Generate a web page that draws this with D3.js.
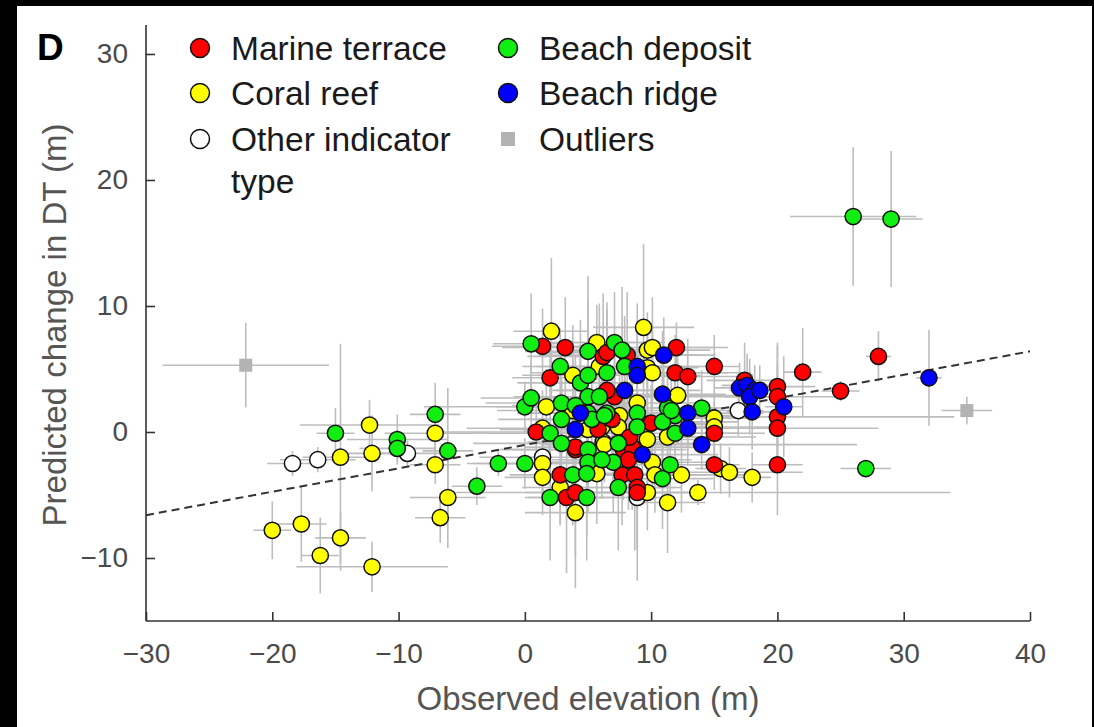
<!DOCTYPE html>
<html>
<head>
<meta charset="utf-8">
<script src="https://cdn.jsdelivr.net/npm/d3@7"></script>
<style>
  html, body { margin: 0; padding: 0; background: #000; }
  svg { display: block; }
  text { font-family: "Liberation Sans", Arial, Helvetica, sans-serif; }
</style>
</head>
<body>
<svg id="chart" width="1094" height="727"></svg>
<script>
// Indicator categories and their marker fills
const categoryNames  = ["Marine terrace", "Coral reef", "Other indicator type", "Beach deposit", "Beach ridge", "Outliers"];
const categoryColors = ["#ff0000", "#ffff00", "#ffffff", "#11ee11", "#0000ff", "#b3b3b3"];

// Each row: [observed elevation, predicted change in DT, x half-error, y half-error]
const marineTerrace = [
  [1.4, 6.8, 4, 3], [3.2, 6.7, 5, 4], [2.0, 4.3, 3, 2.5], [6.2, 6.0, 6, 5], [6.5, 6.3, 5, 4],
  [8.1, 6.1, 7, 5], [12.0, 6.7, 3, 2], [11.9, 4.7, 6, 3], [12.9, 4.4, 4, 3], [15.0, 5.2, 2, 2.5],
  [7.1, 2.8, 8, 4], [6.5, 3.3, 4, 6], [0.9, 0.0, 8, 3], [4.0, -1.4, 6, 4], [4.0, -1.2, 4, 3],
  [7.8, -1.4, 5, 4], [8.5, -1.2, 6, 5], [2.8, -3.4, 4, 4], [3.3, -5.2, 3, 6], [4.0, -4.8, 4, 5],
  [7.7, -3.4, 5, 4], [8.7, -3.4, 4, 6], [8.9, -4.4, 3, 5], [8.9, -4.8, 4, 7], [15.0, -0.1, 4, 2],
  [15.0, -2.6, 2, 2], [17.4, 4.1, 3, 3], [20.0, 3.6, 3, 3.5], [20.0, 2.8, 5, 4], [20.0, 1.2, 14, 4],
  [20.0, 0.3, 8, 3], [20.0, -2.6, 2, 4], [22.0, 4.75, 1.5, 3.5], [25.0, 3.25, 1.5, 0.8], [28.0, 6.0, 1.0, 2.0],
  [6.9, 1.0, 6, 4], [8.3, -0.4, 7, 4], [8.2, -2.2, 5, 4], [5.8, 0.2, 6, 3], [10.0, 0.7, 5, 3]
];
const coralReef = [
  [-20.0, -7.8, 1.5, 2.3], [-17.7, -7.3, 2, 3], [-16.2, -9.8, 1.5, 3], [-14.6, -8.4, 2, 2], [-12.1, -10.7, 6, 2],
  [-14.6, -2.0, 3, 9], [-12.1, -1.7, 2, 3], [-12.3, 0.55, 5.5, 2], [-7.1, -0.1, 4, 2], [-7.1, -2.6, 2, 1.5],
  [-6.1, -5.2, 3, 4], [-6.7, -6.8, 2, 2], [2.1, 8.0, 3, 5.8], [5.7, 7.1, 5, 3], [9.4, 8.3, 4, 6.6],
  [9.7, 6.5, 5, 3], [10.1, 6.7, 6, 4], [3.8, 4.5, 4, 4], [5.9, 5.2, 5, 5], [9.7, 5.1, 4, 3],
  [10.1, 4.7, 6, 4], [1.7, 2.0, 4, 3], [3.8, 1.7, 6, 4], [7.5, 1.3, 5, 4], [5.7, 0.6, 4, 3],
  [9.7, 0.6, 6, 4], [12.1, 2.9, 5, 3], [15.0, 1.1, 3, 2], [15.0, 0.4, 5, 2], [11.3, -0.4, 7, 3],
  [1.4, 0.3, 6, 3], [5.0, 0.2, 5, 4], [6.2, -0.8, 6, 3], [9.7, -0.6, 4, 4], [10.1, -2.4, 5, 3],
  [1.4, -2.5, 6, 3], [1.4, -3.6, 3, 3], [5.7, -3.3, 4, 4], [12.4, -3.4, 5, 3], [9.7, -4.8, 4, 3],
  [11.3, -5.6, 3, 4], [13.7, -4.8, 20, 1], [2.8, -4.4, 3, 3], [4.0, -6.4, 4, 6], [15.5, -2.9, 2, 2],
  [16.2, -3.2, 5.8, 2], [18.0, -3.6, 1.5, 2], [10.3, -3.4, 4, 3], [8.9, 2.3, 5, 3], [6.1, 0.4, 4, 4],
  [7.4, 0.4, 5, 3], [6.3, -1.0, 5, 3]
];
const otherIndicator = [
  [-18.4, -2.5, 2, 1], [-16.4, -2.2, 3, 1], [-9.3, -1.7, 3, 1], [16.9, 1.7, 2, 2], [1.4, -2.0, 5, 3], [8.9, -5.2, 3, 4]
];
const beachDeposit = [
  [-15.0, -0.1, 1.5, 2], [-10.1, -0.6, 4, 2], [-10.1, -1.3, 3, 1], [-7.1, 1.4, 2, 2.5], [-6.1, -1.5, 2, 5],
  [-2.1, -2.5, 2, 1], [-3.8, -4.3, 2, 1.5], [0.5, 7.0, 3, 4], [5.0, 6.4, 5, 6], [7.1, 7.1, 4, 4],
  [7.7, 6.5, 5, 5], [2.8, 5.2, 3, 3], [4.4, 3.9, 5, 5], [5.0, 4.5, 4, 6], [6.5, 4.7, 6, 5],
  [7.9, 5.2, 6, 4], [0.0, 2.0, 8, 2], [0.5, 2.7, 4, 3], [2.9, 2.3, 6, 4], [2.9, 1.0, 5, 3],
  [5.0, 2.8, 5, 5], [5.9, 2.8, 6, 4], [6.5, 1.5, 5, 4], [5.0, 1.5, 5, 4], [8.9, 1.5, 6, 4],
  [8.9, 0.4, 6, 5], [11.3, 1.9, 4, 3], [11.9, 1.3, 5, 3], [14.0, 1.9, 4, 3], [10.9, 0.8, 6, 4],
  [11.9, -0.1, 5, 3], [11.6, 1.7, 4, 3], [2.0, -0.1, 6, 3], [2.9, -0.9, 7, 4], [5.0, -1.4, 6, 4],
  [7.4, -0.9, 7, 4], [5.0, -2.4, 5, 4], [7.0, -2.4, 5, 4], [6.1, -2.2, 4, 3], [0.0, -2.5, 3, 2],
  [3.8, -3.4, 3, 4], [4.9, -3.3, 4, 5], [7.4, -4.4, 5, 5], [10.9, -3.7, 4, 4], [11.5, -2.6, 5, 3],
  [2.0, -5.2, 2, 5], [4.9, -5.2, 3, 5], [4.0, 2.1, 5, 4], [5.3, 1.0, 5, 4], [6.3, 1.3, 4, 4],
  [26.0, 17.1, 5, 5.5], [29.0, 16.9, 2.5, 5.4], [27.0, -2.9, 2, 0.5]
];
const beachRidge = [
  [11.0, 6.1, 3, 3], [8.9, 5.2, 4, 5], [8.9, 4.5, 5, 4], [7.9, 3.3, 6, 4], [4.4, 1.5, 5, 5],
  [10.9, 3.0, 5, 5], [12.9, 1.5, 6, 3], [12.9, 0.3, 4, 3], [14.0, -1.0, 12.3, 2], [4.0, 0.2, 6, 4],
  [9.3, -1.8, 6, 4], [17.0, 3.5, 2, 2], [17.6, 3.7, 2, 2.5], [18.2, 3.3, 2, 2], [17.8, 2.8, 2, 3],
  [18.0, 1.6, 2, 3], [18.6, 3.3, 2, 2], [20.5, 2.0, 1.5, 4], [32.0, 4.3, 1.0, 3.8]
];
const outliers = [
  [-22.1, 5.3, 6.6, 3.35], [35.0, 1.7, 2.0, 1.1]
];

// Fitted trend (end points)
const trendLine = [[-30, -6.6], [40, 6.4]];

// Axis ticks and titles
const xTicks = [-30, -20, -10, 0, 10, 20, 30, 40];
const yTicks = [-10, 0, 10, 20, 30];
const xTitle = "Observed elevation (m)";
const yTitle = "Predicted change in DT (m)";
const panelLabel = "D";

const svg = d3.select("#chart");

// Panel background (dark frame on top and sides)
svg.append("rect").attr("x", 0).attr("y", 0).attr("width", 1094).attr("height", 727).attr("fill", "#000");
svg.append("rect").attr("x", 17).attr("y", 6).attr("width", 1075).attr("height", 721).attr("fill", "#fff");

const x = d3.scaleLinear().domain([-30, 40]).range([146, 1030]);
const y = d3.scaleLinear().domain([-15, 32.3]).range([621, 25]);

// Axes with inward ticks
const axisColor = "#333";
const gx = svg.append("g").attr("transform", `translate(0,${y(-15)})`)
  .call(d3.axisBottom(x).tickValues(xTicks).tickSizeInner(-9).tickSizeOuter(0).tickPadding(22));
const gy = svg.append("g").attr("transform", `translate(${x(-30)},0)`)
  .call(d3.axisLeft(y).tickValues(yTicks).tickSizeInner(-9).tickSizeOuter(0).tickPadding(18));
[gx, gy].forEach(g => {
  g.select(".domain").attr("stroke", axisColor).attr("stroke-width", 1.6);
  g.selectAll(".tick line").attr("stroke", axisColor).attr("stroke-width", 1.6);
  g.selectAll(".tick text").attr("fill", "#4a4a4a").style("font-size", "28px")
    .style("font-family", '"Liberation Sans", Arial, sans-serif');
});
// y axis line runs to the top of the panel, x axis line to the last tick
gy.select(".domain").attr("d", `M0,${y(32.3)}V${y(-15)}`);
gx.select(".domain").attr("d", `M${x(-30)},0H${x(40)}`);

// Axis titles and panel letter
svg.append("text").attr("x", (x(-30) + x(40)) / 2).attr("y", 710)
  .attr("text-anchor", "middle").attr("fill", "#555").style("font-size", "33px").text(xTitle);
svg.append("text").attr("transform", `translate(66,${325}) rotate(-90)`)
  .attr("text-anchor", "middle").attr("fill", "#555").style("font-size", "33px").text(yTitle);
svg.append("text").attr("x", 37).attr("y", 60).attr("fill", "#000")
  .style("font-size", "37px").style("font-weight", "bold").text(panelLabel);

// Data groups, drawn bottom to top
const groups = [
  { rows: otherIndicator, color: categoryColors[2], shape: "circle" },
  { rows: coralReef,      color: categoryColors[1], shape: "circle" },
  { rows: marineTerrace,  color: categoryColors[0], shape: "circle" },
  { rows: beachDeposit,   color: categoryColors[3], shape: "circle" },
  { rows: beachRidge,     color: categoryColors[4], shape: "circle" },
  { rows: outliers,       color: categoryColors[5], shape: "square" }
];

svg.append("clipPath").attr("id", "plotClip").append("rect")
  .attr("x", x(-30)).attr("y", y(32.3)).attr("width", x(40) - x(-30)).attr("height", y(-15) - y(32.3));

const plot = svg.append("g").attr("clip-path", "url(#plotClip)");

// Error bars beneath everything
const errG = plot.append("g").attr("stroke", "#bdbdbd").attr("stroke-width", 1.6);
groups.forEach(g => {
  g.rows.forEach(r => {
    errG.append("line").attr("x1", x(r[0] - r[2])).attr("x2", x(r[0] + r[2]))
      .attr("y1", y(r[1])).attr("y2", y(r[1]));
    errG.append("line").attr("x1", x(r[0])).attr("x2", x(r[0]))
      .attr("y1", y(r[1] - r[3])).attr("y2", y(r[1] + r[3]));
  });
});

// Trend line
plot.append("line")
  .attr("x1", x(trendLine[0][0])).attr("y1", y(trendLine[0][1]))
  .attr("x2", x(trendLine[1][0])).attr("y2", y(trendLine[1][1]))
  .attr("stroke", "#333").attr("stroke-width", 2).attr("stroke-dasharray", "8,5");

// Markers
groups.forEach(g => {
  if (g.shape === "circle") {
    plot.append("g").selectAll("circle").data(g.rows).join("circle")
      .attr("cx", d => x(d[0])).attr("cy", d => y(d[1])).attr("r", 8.1)
      .attr("fill", g.color).attr("stroke", "#111").attr("stroke-width", 1.5);
  } else {
    plot.append("g").selectAll("rect").data(g.rows).join("rect")
      .attr("x", d => x(d[0]) - 6.5).attr("y", d => y(d[1]) - 6.5)
      .attr("width", 13).attr("height", 13).attr("fill", g.color);
  }
});

// Legend
const legendCols = [200, 508];
const legendRows = [48, 93, 139];
const legendItems = [
  { label: categoryNames[0], color: categoryColors[0], col: 0, row: 0, shape: "circle" },
  { label: categoryNames[1], color: categoryColors[1], col: 0, row: 1, shape: "circle" },
  { label: categoryNames[2], color: categoryColors[2], col: 0, row: 2, shape: "circle" },
  { label: categoryNames[3], color: categoryColors[3], col: 1, row: 0, shape: "circle" },
  { label: categoryNames[4], color: categoryColors[4], col: 1, row: 1, shape: "circle" },
  { label: categoryNames[5], color: categoryColors[5], col: 1, row: 2, shape: "square" }
];
const leg = svg.append("g");
legendItems.forEach(it => {
  const cx = legendCols[it.col], cy = legendRows[it.row];
  if (it.shape === "circle") {
    leg.append("circle").attr("cx", cx).attr("cy", cy).attr("r", 9.5)
      .attr("fill", it.color).attr("stroke", "#111").attr("stroke-width", 1.5);
  } else {
    leg.append("rect").attr("x", cx - 7).attr("y", cy - 7).attr("width", 14).attr("height", 14)
      .attr("fill", it.color);
  }
  const words = it.label === "Other indicator type" ? ["Other indicator", "type"] : [it.label];
  const t = leg.append("text").attr("x", cx + 31).attr("y", cy + 12)
    .attr("fill", "#1a1a1a").style("font-size", "33.5px");
  words.forEach((w, i) => {
    t.append("tspan").attr("x", cx + 31).attr("dy", i === 0 ? 0 : 42).text(w);
  });
});
</script>
</body>
</html>
